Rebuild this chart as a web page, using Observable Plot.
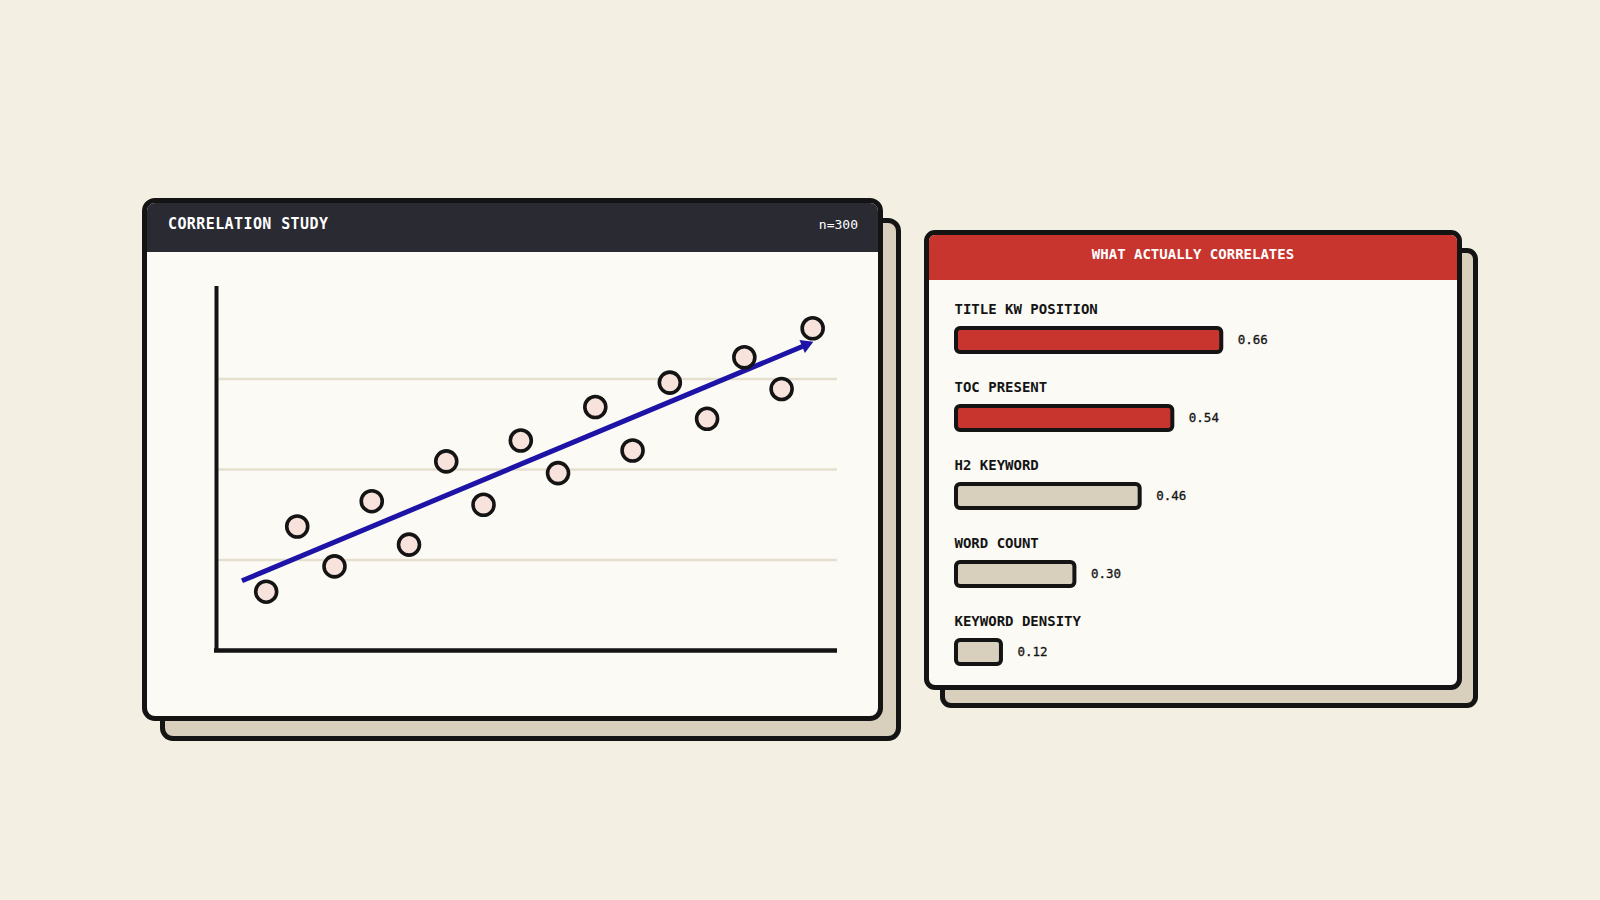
<!DOCTYPE html>
<html><head><meta charset="utf-8">
<script src="https://cdn.jsdelivr.net/npm/d3@7"></script>
<script src="https://cdn.jsdelivr.net/npm/@observablehq/plot@0.6"></script>
<style>
html,body{margin:0;padding:0;background:#f3efe3;}
#stage{position:relative;width:1600px;height:900px;overflow:hidden;font-family:"DejaVu Sans Mono",monospace;background:#f3efe3;}
.card{position:absolute;box-sizing:border-box;border:5px solid #141414;border-radius:13px;background:#fbfaf5;overflow:hidden;}
.shadow{position:absolute;box-sizing:border-box;border:5px solid #141414;border-radius:13px;background:#d9cfbd;}
.hdr{position:absolute;left:0;right:0;top:0;}
.abs{position:absolute;white-space:nowrap;line-height:20px;height:20px;}
.plotbox{position:absolute;}
.plotbox svg{background:transparent !important;overflow:visible;display:block;}
</style></head>
<body><div id="stage">
  <div class="shadow" style="left:160px;top:218px;width:741px;height:523px"></div>
  <div class="card" style="left:142px;top:198px;width:741px;height:523px">
    <div class="hdr" style="height:49px;background:#2a2a33"></div>
  </div>
  <div class="shadow" style="left:940px;top:248px;width:538px;height:460px;border-radius:11px"></div>
  <div class="card" style="left:924px;top:230px;width:538px;height:460px;border-radius:11px">
    <div class="hdr" style="height:45px;background:#c8352f"></div>
  </div>
  <div class="abs" id="t1" style="left:168px;top:214px;color:#ffffff;font-size:15px;font-weight:bold;letter-spacing:0.4px"></div>
  <div class="abs" id="t2" style="right:742px;top:215px;color:#ffffff;font-size:13px"></div>
  <div class="abs" id="t3" style="left:924px;width:538px;text-align:center;top:244px;color:#ffffff;font-size:14px;font-weight:bold"></div>
  <div class="plotbox" id="scatter" style="left:147px;top:252px"></div>
  <div class="plotbox" id="bars" style="left:929px;top:270px"></div>
</div>
<script>
// ---- texts ----
const leftTitle = "CORRELATION STUDY";
const sampleLabel = "n=300";
const rightTitle = "WHAT ACTUALLY CORRELATES";

// ---- scatter data ----
const pointX = [0.8, 1.3, 1.9, 2.5, 3.1, 3.7, 4.3, 4.9, 5.5, 6.1, 6.7, 7.3, 7.9, 8.5, 9.1, 9.6];
const pointY = [0.65, 1.37, 0.93, 1.65, 1.17, 2.09, 1.61, 2.32, 1.96, 2.69, 2.21, 2.96, 2.56, 3.24, 2.89, 3.56];
const gridLevels = [1, 2, 3];
const trendFrom = [0.41, 0.77];
const trendTo = [9.61, 3.41];

// ---- bar data ----
const factors = ["TITLE KW POSITION", "TOC PRESENT", "H2 KEYWORD", "WORD COUNT", "KEYWORD DENSITY"];
const correlations = [0.66, 0.54, 0.46, 0.30, 0.12];

document.getElementById("t1").textContent = leftTitle;
document.getElementById("t2").textContent = sampleLabel;
document.getElementById("t3").textContent = rightTitle;

const INK = "#141414";
const font = "DejaVu Sans Mono";

// scatter
const W1 = 731, H1 = 464, ML1 = 69, MR1 = 41, MT1 = 36, MB1 = 66;
const xDom = [0, 10], yDom = [0, 4];
const pxX = (W1 - ML1 - MR1) / (xDom[1] - xDom[0]);
const pxY = (H1 - MT1 - MB1) / (yDom[1] - yDom[0]);
const pts = pointX.map((x, i) => ({x, y: pointY[i]}));

const ddx = (trendTo[0] - trendFrom[0]) * pxX;
const ddy = (trendTo[1] - trendFrom[1]) * pxY;
const angle = Math.atan2(ddy, ddx);
const lenPx = Math.hypot(ddx, ddy);
const back = 8;
const tShaft = 1 - back / lenPx;
const shaft = [{
  x1: trendFrom[0], y1: trendFrom[1],
  x2: trendFrom[0] + (trendTo[0] - trendFrom[0]) * tShaft,
  y2: trendFrom[1] + (trendTo[1] - trendFrom[1]) * tShaft
}];
const head = [{x: trendTo[0], y: trendTo[1]}];

const scatter = Plot.plot({
  width: W1, height: H1,
  marginLeft: ML1, marginRight: MR1, marginTop: MT1, marginBottom: MB1,
  style: {background: "transparent", fontFamily: font},
  x: {domain: xDom, axis: null},
  y: {domain: yDom, axis: null},
  marks: [
    Plot.ruleY(gridLevels, {x1: xDom[0], x2: xDom[1], stroke: "#e5dfd0", strokeWidth: 2.5}),
    Plot.ruleX([xDom[0]], {y1: yDom[0], y2: yDom[1], stroke: INK, strokeWidth: 4, strokeLinecap: "square"}),
    Plot.ruleY([yDom[0]], {x1: xDom[0], x2: xDom[1], stroke: INK, strokeWidth: 4.5, insetLeft: -2}),
    Plot.link(shaft, {x1: "x1", y1: "y1", x2: "x2", y2: "y2", stroke: "#1d13a6", strokeWidth: 5, strokeLinecap: "butt"}),
    Plot.dot(head, {x: "x", y: "y", symbol: "triangle", r: 5.2, fill: "#1d13a6", stroke: "none",
      rotate: 90 - angle * 180 / Math.PI,
      dx: -Math.cos(angle) * back, dy: Math.sin(angle) * back}),
    Plot.dot(pts, {x: "x", y: "y", r: 10.5, fill: "#f7e2dc", stroke: INK, strokeWidth: 3.6})
  ]
});
document.getElementById("scatter").appendChild(scatter);

// bars
const rows = factors.map((label, i) => ({label, value: correlations[i]}));
const W2 = 528, H2 = 430;
const bars = Plot.plot({
  width: W2, height: H2,
  marginLeft: 25, marginRight: 95, marginTop: 31, marginBottom: 9,
  style: {background: "transparent", fontFamily: font},
  x: {domain: [0, 1], axis: null},
  y: {domain: factors, type: "band", padding: 0, axis: null},
  marks: [
    Plot.barX(rows, {x: "value", y: "label",
      fill: d => d.value > 0.5 ? "#c8352f" : "#d9cfbd",
      stroke: INK, strokeWidth: 4, rx: 4,
      insetLeft: 2, insetRight: 2, insetTop: 27, insetBottom: 27}),
    Plot.text(rows, {x: 0, y: "label", text: "label", dy: -31, textAnchor: "start",
      fontSize: 14, fontWeight: "bold", fill: INK}),
    Plot.text(rows, {x: "value", y: "label", text: d => d.value.toFixed(2), dx: 14, dy: -1,
      textAnchor: "start", fontSize: 12.5, fill: INK, stroke: INK, strokeWidth: 0.3})
  ]
});
document.getElementById("bars").appendChild(bars);
</script>
</body></html>
